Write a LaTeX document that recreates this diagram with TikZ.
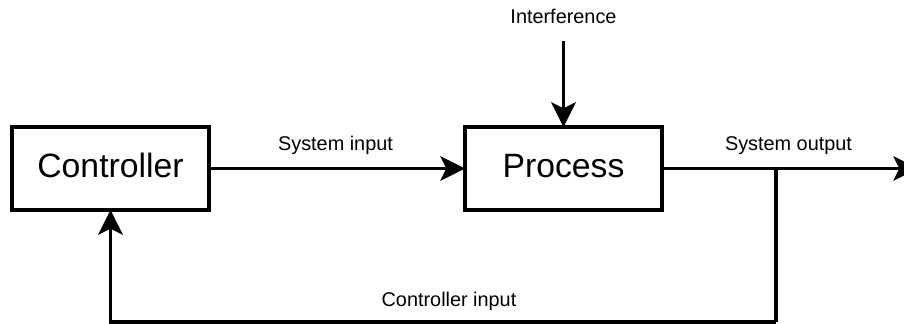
\documentclass[tikz,border=0pt]{standalone}
\usepackage{fontspec}
\setmainfont{Liberation Sans}
\usetikzlibrary{arrows.meta}
\begin{document}
\begin{tikzpicture}[x=0.75pt,y=-0.75pt,
  every node/.style={inner sep=0pt, outer sep=0pt},
  block/.style={draw, line width=2.3pt, minimum width=147.75pt, minimum height=62.25pt,
    font=\fontsize{25.3}{30}\selectfont, text height=18.4pt, text depth=4.15pt},
  lbl/.style={anchor=base, font=\fontsize{14.9}{18}\selectfont},
  flow/.style={line width=2.3pt, -{Stealth[length=18.5pt, width=18.5pt, inset=4.5pt]}},
  wire/.style={line width=2.3pt}]
  \useasboundingbox (0,0) rectangle (904,324);

  % blocks
  \node[block] (ctrl) at (110.5,168.5) {Controller};
  \node[block] (proc) at (563.5,168.5) {Process};

  % free ends and bends
  \coordinate (dist) at (563.5,41);
  \coordinate (out) at (918,168.5);
  \coordinate (tap) at (776,168.5);
  \coordinate (bl) at (776,322);
  \coordinate (br) at (110.5,322);

  % signal paths
  \draw[flow] (ctrl.east) -- (proc.west);
  \draw[flow] (dist) -- (proc.north);
  \draw[flow] (proc.east) -- (out);
  \draw[wire] (tap) -- (bl);
  \draw[flow] (bl) -- (br) -- (ctrl.south);

  % labels
  \node[lbl] (lin) at (335.5,150.5) {System input};
  \node[lbl] (lout) at (788.5,150.5) {System output};
  \node[lbl] (ldist) at (563.5,23.5) {Interference};
  \node[lbl] (lfb) at (449,306) {Controller input};
\end{tikzpicture}
\end{document}
